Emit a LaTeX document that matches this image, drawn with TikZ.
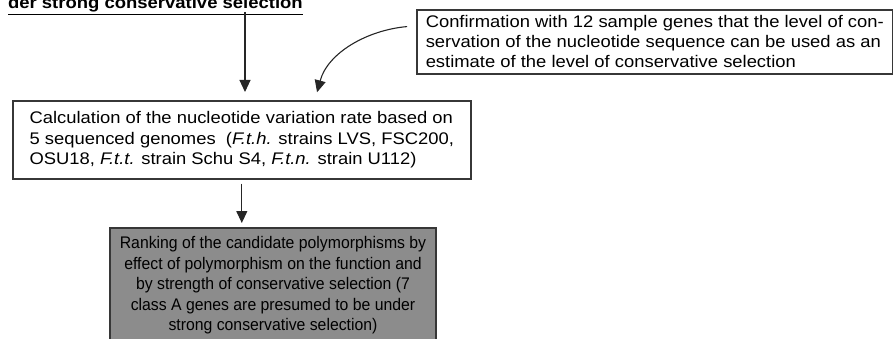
\documentclass[tikz,border=0pt]{standalone}
\usepackage{fontspec}
\setmainfont{Liberation Sans}
\newfontfamily\mainfnt[FakeStretch=1.095]{Liberation Sans}
\newfontfamily\rankfnt[FakeStretch=0.94]{Liberation Sans}
\newfontfamily\titlefnt[FakeStretch=1.10]{Liberation Sans}
\usetikzlibrary{arrows.meta}
\definecolor{boxgrey}{RGB}{140,140,140}
\definecolor{edgegrey}{RGB}{55,55,55}

\begin{document}
\begin{tikzpicture}[x=1pt, y=-1pt,
    box/.style={draw=edgegrey, line width=1.6pt, anchor=north west, align=left, inner sep=0pt,
                font=\mainfnt\fontsize{16.8}{20.5}\selectfont},
    arr/.style={-{Triangle[length=12pt,width=11pt]}, line width=1.1pt, draw=black!85}]
    \useasboundingbox (0,0) rectangle (893,339);
    \node[anchor=base east, inner sep=0pt, font=\titlefnt\fontsize{16.8}{20.5}\selectfont\bfseries]
        (title) at (303,9) {\underline{der strong conservative selection}};
    \node[box, font=\mainfnt\fontsize{16.8}{20}\selectfont, minimum width=476pt, minimum height=64pt]
        (conf) at (416,9) {Confirmation with 12 sample genes that the level of con-\\
                           servation of the nucleotide sequence can be used as an\\
                           estimate of the level of conservative selection};
    \node[box, minimum width=458pt, minimum height=78pt]
        (calc) at (12,100) {Calculation of the nucleotide variation rate based on\\
                            5 sequenced genomes~ (\textit{F.t.h.} strains LVS, FSC200,\\
                            OSU18, \textit{F.t.t.} strain Schu S4, \textit{F.t.n.} strain U112)};
    \node[box, fill=boxgrey, anchor=north, align=center, minimum width=326pt, inner ysep=9pt,
          font=\rankfnt\fontsize{16.8}{20.5}\selectfont]
        (rank) at (273,227) {Ranking of the candidate polymorphisms by\\
                             effect of polymorphism on the function and\\
                             by strength of conservative selection (7\\
                             class A genes are presumed to be under\\
                             strong conservative selection)\\ \mbox{}};
    \coordinate (a1) at (245,12);
    \coordinate (a2) at (315,0);
    \path
        (a1)
            edge [arr, shorten >=8pt] (calc.north -| a1)
        ([yshift=16pt]conf.west)
            edge [arr, out=185, in=75, shorten <=9pt, shorten >=8pt] (calc.north -| a2)
        (calc.south)
            edge [arr, shorten <=4pt, shorten >=4pt] (rank.north -| calc.south)
        ;
\end{tikzpicture}
\end{document}
